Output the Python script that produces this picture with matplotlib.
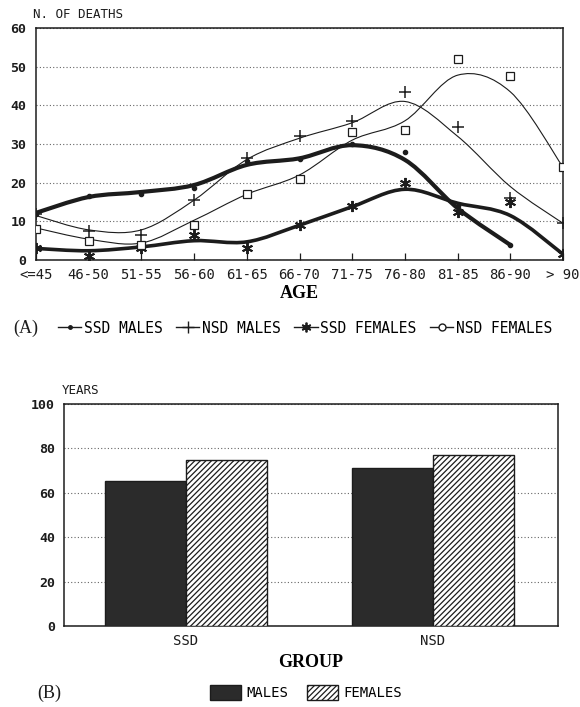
import numpy as np
import matplotlib
matplotlib.use("Agg")
import matplotlib.pyplot as plt
from matplotlib.path import Path
from matplotlib.patches import PathPatch, Patch
from matplotlib.lines import Line2D

# deaths by age group (markers = counts, fit = smoothed trend)
age_groups = ["<=45", "46-50", "51-55", "56-60", "61-65", "66-70",
              "71-75", "76-80", "81-85", "86-90", "> 90"]
ssd_males = [12, 16.5, 17, 18.5, 25.5, 26, 30, 28, 14, 4]
ssd_males_fit = [12.2, 16.3, 17.6, 19.4, 24.6, 26.3, 29.7, 25.9, 13.4, 3.9]
nsd_males = [12, 7.5, 6.5, 15.5, 26.5, 32, 36, 43.5, 34.5, 16, 9.5]
nsd_males_fit = [11.5, 7.8, 7.8, 15.5, 26, 31.5, 35.5, 41, 32, 19, 9.5]
ssd_females = [3, 1, 3, 6.5, 3, 9, 14, 20, 12.5, 15, 1.5]
ssd_females_fit = [3.0, 2.4, 3.4, 5.0, 4.7, 9, 13.8, 18.3, 14.7, 11.5, 1.5]
nsd_females = [8, 5, 4, 9, 17, 21, 33, 33.5, 52, 47.5, 24]
nsd_females_fit = [8.3, 5.4, 4.4, 10.3, 17, 22, 31, 36, 47.8, 43.5, 24]

# mean age at death
groups = ["SSD", "NSD"]
males_age = [65.5, 71.3]
females_age = [74.8, 76.9]

MONO = "DejaVu Sans Mono"
INK = "#1c1c1c"
plt.rcParams["font.family"] = MONO
plt.rcParams["hatch.linewidth"] = 0.9


def smooth_path(ys):
    # cubic bezier through the trend values (catmull-rom tangents)
    pts = np.column_stack([np.arange(len(ys)), ys]).astype(float)
    n = len(pts)
    verts = [pts[0]]
    codes = [Path.MOVETO]
    for i in range(n - 1):
        p0 = pts[max(i - 1, 0)]
        p1 = pts[i]
        p2 = pts[i + 1]
        p3 = pts[min(i + 2, n - 1)]
        verts += [p1 + (p2 - p0) / 6, p2 - (p3 - p1) / 6, p2]
        codes += [Path.CURVE4] * 3
    return Path(verts, codes)


fig = plt.figure(figsize=(5.8, 7.07), dpi=100)

# ---- (A) line chart
ax = fig.add_axes([0.0621, 0.6322, 0.9086, 0.3282])
x = np.arange(len(age_groups))
for fit, lw in [(ssd_males_fit, 3.0), (nsd_males_fit, 0.8),
                (ssd_females_fit, 2.6), (nsd_females_fit, 0.8)]:
    ax.add_patch(PathPatch(smooth_path(fit), fill=False, lw=lw,
                           edgecolor=INK, capstyle="round", zorder=3))

ax.plot(x[:len(ssd_males)], ssd_males, ls="none", marker="o", ms=3,
        color=INK, zorder=4)
ax.plot(x, nsd_males, ls="none", marker="+", ms=9, mew=1.1,
        color=INK, zorder=4)
ax.plot(x, ssd_females, ls="none", marker=(6, 2, 0), ms=8, mew=1.4,
        color=INK, zorder=4)
ax.plot(x, nsd_females, ls="none", marker="s", ms=5.5, mew=0.9,
        mfc="white", mec=INK, zorder=4)

ax.set_xlim(0, 10)
ax.set_ylim(0, 60)
ax.set_xticks(x)
ax.set_xticklabels(age_groups, fontsize=10)
ax.set_yticks(range(0, 61, 10))
ax.set_yticklabels([str(v) for v in range(0, 61, 10)], fontsize=9.5,
                   fontweight="bold")
ax.tick_params(axis="x", direction="in", length=5, width=0.9, pad=6,
               colors=INK)
ax.tick_params(axis="y", length=0, pad=7, colors=INK)
ax.yaxis.grid(True, ls=(0, (1, 2)), lw=0.8, color="#666666")
for sp in ax.spines.values():
    sp.set_linewidth(1.1)
    sp.set_color(INK)
ax.set_xlabel("AGE", fontsize=13, fontweight="bold",
              family="Liberation Serif", labelpad=2)
fig.text(0.057, 0.980, "N. OF DEATHS", fontsize=9, color=INK,
         va="center")

fig.text(0.022, 0.536, "(A)", fontsize=13, family="Liberation Serif",
         va="center", color=INK)
handles_a = [
    Line2D([], [], color=INK, lw=1, marker="o", ms=2.5),
    Line2D([], [], color=INK, lw=1, marker="+", ms=9, mew=1),
    Line2D([], [], color=INK, lw=1, marker=(6, 2, 0), ms=7, mew=1.3),
    Line2D([], [], color=INK, lw=1, marker="o", ms=5, mfc="white"),
]
fig.legend(handles_a, ["SSD MALES", "NSD MALES", "SSD FEMALES", "NSD FEMALES"],
           loc="center left", bbox_to_anchor=(0.1, 0.536), ncol=4,
           frameon=False, fontsize=10.5, handlelength=1.6, handletextpad=0.2,
           columnspacing=0.9, borderpad=0, borderaxespad=0)

# ---- (B) bar chart
bx = fig.add_axes([0.1103, 0.1146, 0.8517, 0.3140])
gx = np.arange(len(groups))
w = 0.328
bx.bar(gx - w / 2, males_age, w, color="#2b2b2b", edgecolor=INK, lw=1,
       zorder=3)
bx.bar(gx + w / 2, females_age, w, color="white", edgecolor=INK, lw=1,
       hatch="//////", zorder=3)
bx.set_xlim(-0.494, 1.506)
bx.set_ylim(0, 100)
bx.set_xticks(gx)
bx.set_xticklabels(groups, fontsize=10)
bx.set_yticks(range(0, 101, 20))
bx.set_yticklabels([str(v) for v in range(0, 101, 20)], fontsize=9.5,
                   fontweight="bold")
bx.tick_params(axis="x", length=0, pad=6, colors=INK)
bx.tick_params(axis="y", length=0, pad=6.5, colors=INK)
bx.yaxis.grid(True, ls=(0, (1, 2)), lw=0.8, color="#666666", zorder=0)
bx.set_axisbelow(True)
for sp in bx.spines.values():
    sp.set_linewidth(1.1)
    sp.set_color(INK)
bx.set_xlabel("GROUP", fontsize=13, fontweight="bold",
              family="Liberation Serif", labelpad=4)
fig.text(0.107, 0.447, "YEARS", fontsize=9, color=INK, va="center")

fig.text(0.065, 0.020, "(B)", fontsize=13, family="Liberation Serif",
         va="center", color=INK)
handles_b = [Patch(facecolor="#2b2b2b", edgecolor=INK),
             Patch(facecolor="white", edgecolor=INK, hatch="//////")]
fig.legend(handles_b, ["MALES", "FEMALES"], loc="center left",
           bbox_to_anchor=(0.362, 0.020), ncol=2, frameon=False,
           fontsize=10, handlelength=2.2, handleheight=1.3,
           handletextpad=0.4, columnspacing=1.4, borderpad=0,
           borderaxespad=0)

fig.savefig("out.png", dpi=100, facecolor="white")
